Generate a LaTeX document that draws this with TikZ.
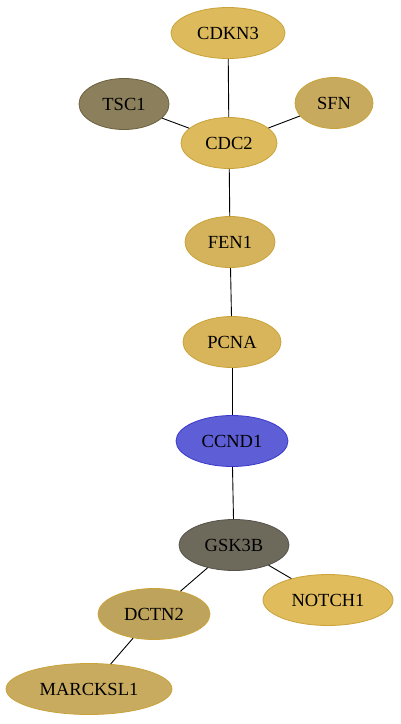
\documentclass[tikz,border=0pt]{standalone}
\usepackage{fontspec}
\setmainfont{Liberation Serif}
\usetikzlibrary{shapes.geometric}
\definecolor{cgold}{HTML}{DDBA5C}
\definecolor{cgoldb}{HTML}{C9A33A}
\definecolor{ctsc}{HTML}{8B7F5C}
\definecolor{ctscb}{HTML}{6B6040}
\definecolor{csfn}{HTML}{C8AA5E}
\definecolor{cfen}{HTML}{D5B35C}
\definecolor{cpcna}{HTML}{D8B55B}
\definecolor{cccnd}{HTML}{5E5ED6}
\definecolor{cccndb}{HTML}{3A3ACC}
\definecolor{cgsk}{HTML}{6D6A5C}
\definecolor{cgskb}{HTML}{55524A}
\definecolor{cnotch}{HTML}{E0BC5C}
\definecolor{cdctn}{HTML}{BEA35C}
\definecolor{cmarck}{HTML}{C8AB5E}
\tikzset{
  gene/.style={ellipse, draw=cgoldb, line width=0.8pt, inner sep=0pt, minimum height=51pt, font=\fontsize{18.5}{21}\selectfont, text=black},
  link/.style={draw=black, line width=0.9pt}
}
\begin{document}
\begin{tikzpicture}[x=1pt,y=-1pt]
\useasboundingbox (0,0) rectangle (400,724);
\node[gene, fill=cgold, minimum width=114pt] (CDKN3) at (228,33) {CDKN3};
\node[gene, fill=ctsc, draw=ctscb, minimum width=90pt] (TSC1) at (124,104) {TSC1};
\node[gene, fill=csfn, minimum width=78pt] (SFN) at (334,103) {SFN};
\node[gene, fill=cgold, minimum width=96pt] (CDC2) at (229,143) {CDC2};
\node[gene, fill=cfen, minimum width=90pt] (FEN1) at (230,242) {FEN1};
\node[gene, fill=cpcna, minimum width=98pt] (PCNA) at (232,342) {PCNA};
\node[gene, fill=cccnd, draw=cccndb, minimum width=112pt] (CCND1) at (232,441) {CCND1};
\node[gene, fill=cgsk, draw=cgskb, minimum width=110pt] (GSK3B) at (234,545) {GSK3B};
\node[gene, fill=cnotch, minimum width=130pt] (NOTCH1) at (328,600) {NOTCH1};
\node[gene, fill=cdctn, minimum width=112pt] (DCTN2) at (154,614) {DCTN2};
\node[gene, fill=cmarck, minimum width=166pt] (MARCKSL1) at (89,689) {MARCKSL1};
\draw[link] (CDKN3) -- (CDC2);
\draw[link] (TSC1) -- (CDC2);
\draw[link] (SFN) -- (CDC2);
\draw[link] (CDC2) -- (FEN1);
\draw[link] (FEN1) -- (PCNA);
\draw[link] (PCNA) -- (CCND1);
\draw[link] (CCND1) -- (GSK3B);
\draw[link] (GSK3B) -- (NOTCH1);
\draw[link] (GSK3B) -- (DCTN2);
\draw[link] (DCTN2) -- (MARCKSL1);
\end{tikzpicture}
\end{document}
